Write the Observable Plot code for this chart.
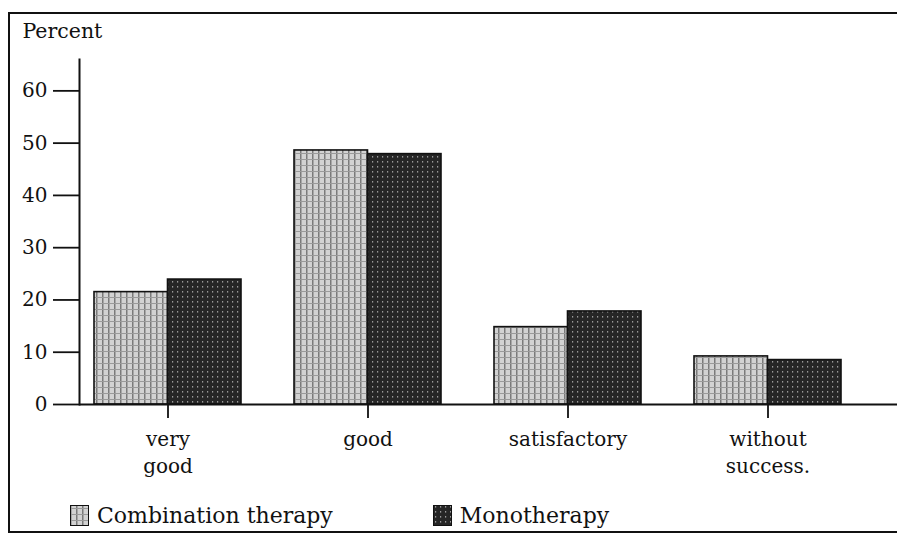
<!DOCTYPE html>
<html>
<head>
<meta charset="utf-8">
<script src="https://cdn.jsdelivr.net/npm/d3@7"></script>
<script src="https://cdn.jsdelivr.net/npm/@observablehq/plot@0.6"></script>
<style>
  html, body { margin: 0; padding: 0; background: #fff; }
  #wrap { position: relative; width: 897px; height: 535px; overflow: hidden; font-family: "DejaVu Serif", serif; color: #111; }
  #frame { position: absolute; left: 8px; top: 12px; right: -4px; bottom: 2px; border-left: 2px solid #111; border-top: 2px solid #111; border-bottom: 2px solid #111; }
  #chart { position: absolute; left: 0; top: 0; }
  #legend { position: absolute; left: 70px; top: 503px; font-size: 22px; display: flex; align-items: center; white-space: nowrap; }
  .item { display: flex; align-items: center; }
  .item svg { margin-right: 8px; }
</style>
</head>
<body>
<div id="wrap">
  <div id="frame"></div>
  <div id="chart"></div>
  <div id="legend"></div>
</div>
<script>
// ---- data ----
const categories = ["very good", "good", "satisfactory", "without success"];
const categoryLabels = ["very\ngood", "good", "satisfactory", "without\nsuccess."];
const seriesNames = ["Combination therapy", "Monotherapy"];
const combination = [21.5, 48.6, 14.8, 9.2];
const monotherapy = [23.9, 47.9, 17.8, 8.5];
const yTicks = [0, 10, 20, 30, 40, 50, 60];
const yLabel = "Percent";

const combRows = categories.map((c, i) => ({category: c, value: combination[i]}));
const monoRows = categories.map((c, i) => ({category: c, value: monotherapy[i]}));
const labelOf = new Map(categories.map((c, i) => [c, categoryLabels[i]]));

const half = 73.5; // half of band width: each series takes one half of its category band

const chart = Plot.plot({
  width: 897,
  height: 485,
  marginLeft: 79,
  marginRight: 0,
  marginTop: 59,
  marginBottom: 81,
  style: {fontFamily: "DejaVu Serif, serif", fontSize: "20px", color: "#111", background: "transparent"},
  x: {domain: categories, range: [79, 855], paddingInner: 0.265, paddingOuter: 0.0725},
  y: {domain: [0, 66]},
  marks: [
    Plot.barY(combRows, {x: "category", y: "value", fill: "url(#patComb)", stroke: "#111", strokeWidth: 1.6, insetRight: half}),
    Plot.barY(monoRows, {x: "category", y: "value", fill: "url(#patMono)", stroke: "#111", strokeWidth: 1.6, insetLeft: half}),
    Plot.ruleY([0], {stroke: "#111", strokeWidth: 2}),
    Plot.frame({anchor: "left", stroke: "#111", strokeWidth: 2}),
    Plot.axisY({ticks: yTicks, tickSize: 26, tickPadding: 6, label: null, strokeWidth: 1.8, fontSize: 20}),
    Plot.axisX({tickSize: 14, tickPadding: 8, label: null, tickFormat: d => labelOf.get(d), lineHeight: 1.35, strokeWidth: 1.8, fontSize: 20}),
    Plot.text([yLabel], {frameAnchor: "top-left", dx: -57, dy: -22, textAnchor: "start", lineAnchor: "bottom", fontSize: 20.5, fill: "#111"})
  ]
});
document.getElementById("chart").appendChild(chart);

// texture patterns imitating the printed screens
const svg = d3.select(chart);
const defs = svg.insert("defs", ":first-child");
const pc = defs.append("pattern").attr("id", "patComb").attr("patternUnits", "userSpaceOnUse").attr("width", 6).attr("height", 6);
pc.append("rect").attr("width", 6).attr("height", 6).attr("fill", "#d2d2d2");
pc.append("rect").attr("x", 0).attr("width", 1.5).attr("height", 6).attr("fill", "#7a7a7a");
pc.append("rect").attr("y", 3).attr("width", 6).attr("height", 1).attr("fill", "#9a9a9a");
const pm = defs.append("pattern").attr("id", "patMono").attr("patternUnits", "userSpaceOnUse").attr("width", 5).attr("height", 5);
pm.append("rect").attr("width", 5).attr("height", 5).attr("fill", "#262626");
pm.append("rect").attr("x", 2).attr("y", 1).attr("width", 1.2).attr("height", 1.6).attr("fill", "#9a9a9a");

// legend below the plot
const legend = d3.select("#legend");
const pats = ["url(#patComb)", "url(#patMono)"];
seriesNames.forEach((name, i) => {
  const item = legend.append("div").attr("class", "item").style("margin-right", i === 0 ? "100px" : "0px");
  const sw = item.append("svg").attr("width", 19).attr("height", 21);
  sw.append("rect").attr("x", 0.5).attr("y", 0.5).attr("width", 18).attr("height", 20).attr("fill", pats[i]).attr("stroke", "#111");
  item.append("span").text(name);
});
</script>
</body>
</html>
